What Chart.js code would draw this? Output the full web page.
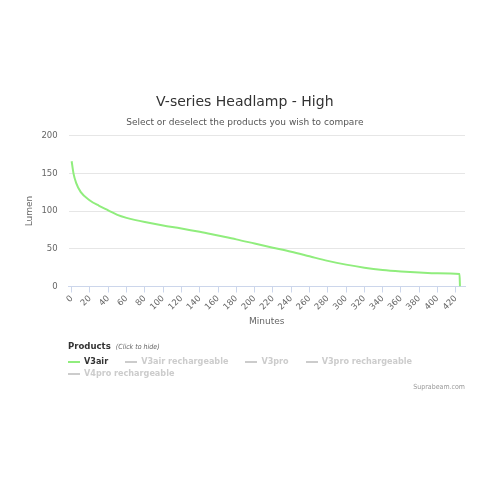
<!DOCTYPE html>
<html>
<head>
<meta charset="utf-8">
<script src="https://cdn.jsdelivr.net/npm/chart.js@4/dist/chart.umd.min.js"></script>
<style>
  html, body { margin: 0; padding: 0; background: #fff; }
  #wrap { position: relative; width: 490px; height: 490px; font-family: "DejaVu Sans Condensed", "DejaVu Sans", sans-serif; }
  #c { position: absolute; left: 0; top: 0; }
  #legend { position: absolute; left: 68px; top: 340px; width: 400px; }
  #legend .head { font-size: 9.5px; font-weight: bold; color: #333; }
  #legend .head i { font-weight: normal; font-size: 7px; color: #666; margin-left: 2px; }
  #items { display: flex; flex-wrap: wrap; margin-top: 5px; row-gap: 1px; }
  .item { display: flex; align-items: center; margin-right: 17px; font-size: 9px; font-weight: bold; line-height: 11px; }
  .sym { display: inline-block; width: 12px; height: 2px; margin-right: 4px; }
  #credit { position: absolute; right: 25px; top: 383px; font-size: 7px; color: #999; }
</style>
</head>
<body>
<div id="wrap">
  <canvas id="c" width="490" height="490"></canvas>
  <div id="legend">
    <div class="head">Products <i>(Click to hide)</i></div>
    <div id="items"></div>
  </div>
  <div id="credit">Suprabeam.com</div>
</div>
<script>
// ---- data ----
const minutes = [0, 2, 5, 10, 20, 30, 40, 50, 60, 70, 80, 100, 120, 140, 160, 180, 200, 220, 240, 260, 280, 300, 320, 340, 360, 380, 400, 424, 424.5];
const v3airLumen = [166, 150, 137, 125, 114, 107, 101, 95, 91, 88, 85.5, 81, 77, 72.5, 67.5, 62.5, 57, 51.5, 46, 40, 34, 29, 25, 22, 20, 18.5, 17.5, 16.5, 0];
const productNames = ["V3air", "V3air rechargeable", "V3pro", "V3pro rechargeable", "V4pro rechargeable"];
const productVisible = [true, false, false, false, false];
const xTickValues = [0, 20, 40, 60, 80, 100, 120, 140, 160, 180, 200, 220, 240, 260, 280, 300, 320, 340, 360, 380, 400, 420];
const yTickValues = [0, 50, 100, 150, 200];

const FONT = "'DejaVu Sans', sans-serif";
const seriesColor = "#90ed7d";
const hiddenColor = "#cccccc";

const datasets = productNames.map((name, i) => ({
  label: name,
  data: i === 0 ? minutes.map((m, k) => ({ x: m, y: v3airLumen[k] })) : [],
  borderColor: seriesColor,
  backgroundColor: seriesColor,
  borderWidth: 2,
  pointRadius: 0,
  cubicInterpolationMode: 'monotone',
  hidden: !productVisible[i]
}));

new Chart(document.getElementById('c'), {
  type: 'line',
  data: { datasets },
  options: {
    responsive: false,
    animation: false,
    devicePixelRatio: 1,
    layout: { padding: { left: 24.6, right: 25, top: 0, bottom: 163 } },
    plugins: {
      legend: { display: false },
      tooltip: { enabled: false },
      title: {
        display: true,
        text: 'V-series Headlamp - High',
        color: '#333333',
        font: { family: FONT, size: 14, weight: 'normal' },
        padding: { top: 94, bottom: 0 }
      },
      subtitle: {
        display: true,
        text: 'Select or deselect the products you wish to compare',
        color: '#555555',
        font: { family: FONT, size: 9 },
        padding: { top: 6, bottom: 8 }
      }
    },
    scales: {
      x: {
        type: 'linear',
        min: -3.3,
        max: 430,
        afterBuildTicks: (s) => { s.ticks = xTickValues.map(v => ({ value: v })); },
        grid: { drawOnChartArea: false, drawTicks: true, tickLength: 6, color: '#ccd6eb' },
        border: { color: '#ccd6eb', width: 1 },
        ticks: {
          color: '#666666',
          font: { family: FONT, size: 8.5 },
          minRotation: 45,
          maxRotation: 45,
          padding: 1,
          autoSkip: false
        },
        title: {
          display: true,
          text: 'Minutes',
          color: '#666666',
          font: { family: FONT, size: 9 },
          padding: { top: 3, bottom: 0 }
        }
      },
      y: {
        min: 0,
        max: 200,
        afterBuildTicks: (s) => { s.ticks = yTickValues.map(v => ({ value: v })); },
        grid: { color: '#e6e6e6', drawTicks: false },
        border: { display: false },
        ticks: { color: '#666666', font: { family: FONT, size: 8.5 }, padding: 11 },
        title: {
          display: true,
          text: 'Lumen',
          color: '#666666',
          font: { family: FONT, size: 9 },
          padding: { top: 0, bottom: -5 }
        }
      }
    }
  }
});

// HTML legend built from the product arrays
const items = document.getElementById('items');
productNames.forEach((name, i) => {
  const el = document.createElement('div');
  el.className = 'item';
  const sym = document.createElement('span');
  sym.className = 'sym';
  sym.style.background = productVisible[i] ? seriesColor : hiddenColor;
  const txt = document.createElement('span');
  txt.textContent = name;
  txt.style.color = productVisible[i] ? '#333333' : hiddenColor;
  el.appendChild(sym);
  el.appendChild(txt);
  items.appendChild(el);
});
</script>
</body>
</html>
